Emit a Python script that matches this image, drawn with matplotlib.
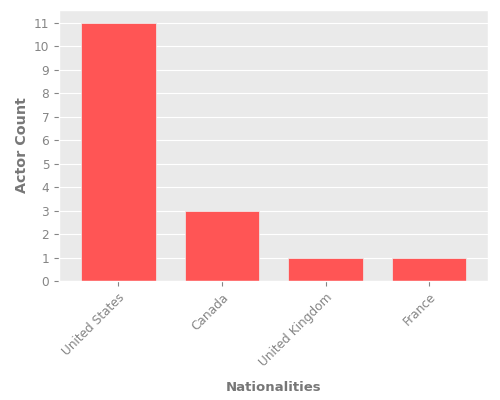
import matplotlib
matplotlib.use("Agg")
import matplotlib.pyplot as plt

nationalities = ["United States", "Canada", "United Kingdom", "France"]
actor_counts = [11, 3, 1, 1]

plt.style.use("ggplot")
fig = plt.figure(figsize=(5, 4), dpi=100)
ax = fig.add_axes([0.118, 0.2975, 0.858, 0.6775])
ax.set_facecolor("#EAEAEA")
x = range(len(nationalities))
ax.bar(x, actor_counts, width=0.72, color="#FF5555", edgecolor="#EEEEEE", linewidth=0.5)
ax.set_xticks(list(x))
ax.set_xticklabels(nationalities, rotation=45, ha="right", rotation_mode="anchor", fontsize=8.7)
ax.set_xlim(-0.572, 3.568)
ax.set_yticks(range(0, 12))
ax.tick_params(axis="y", labelsize=8.7)
ax.set_xlabel("Nationalities", fontweight="bold", color="#777777", fontsize=9.5, labelpad=9)
ax.set_ylabel("Actor Count", fontweight="bold", color="#777777", fontsize=10.3, labelpad=3.5)
ax.tick_params(colors="#858585", labelcolor="#858585", length=3.5, width=0.8)
ax.grid(axis="x", visible=False)
fig.savefig("out.png", dpi=100)
